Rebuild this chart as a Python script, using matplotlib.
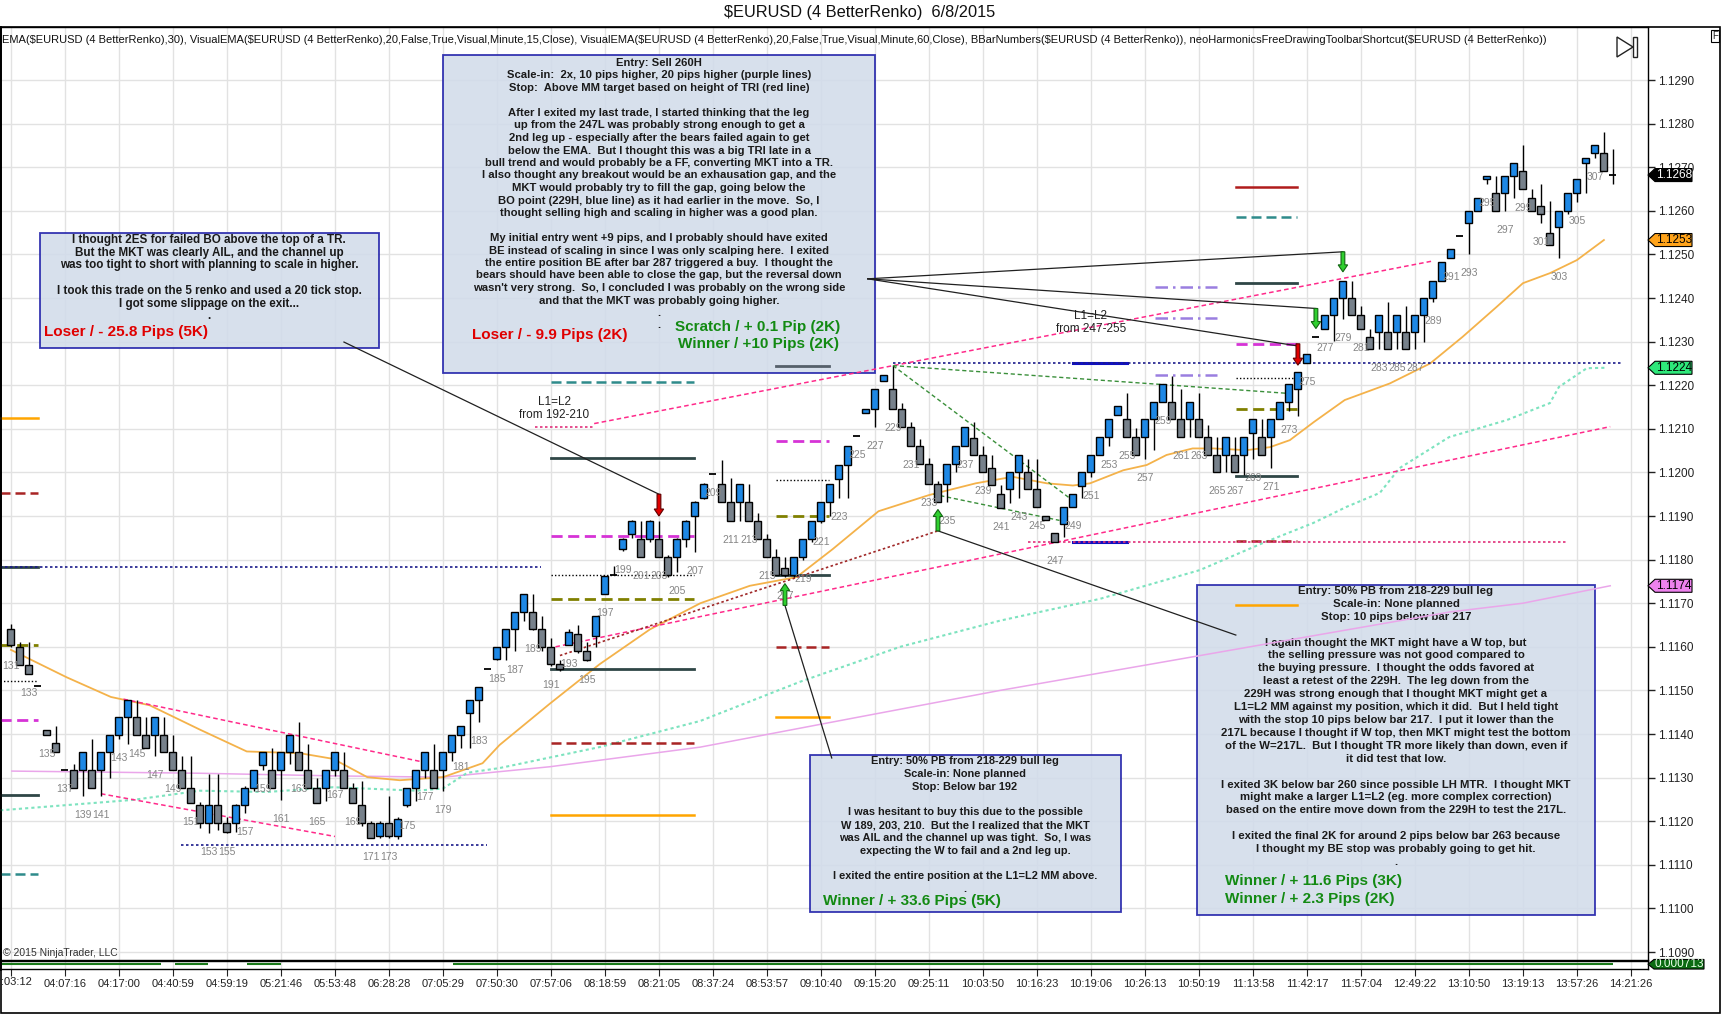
import matplotlib
matplotlib.use("Agg")
import matplotlib.pyplot as plt
import matplotlib.patches as mpatches
import matplotlib.transforms as mtransforms
import numpy as np

plt.rcParams['font.family'] = ['Liberation Sans', 'DejaVu Sans']

# ---------------- data ----------------
first_bar = 131

opens = [
    1.11640, 1.11600, 1.11559, 1.11509, 1.11409, 1.11379, 1.11317, 1.11317, 1.11317, 1.11317,
    1.11317, 1.11358, 1.11398, 1.11440, 1.11440, 1.11398, 1.11398, 1.11398, 1.11358, 1.11317,
    1.11277, 1.11237, 1.11197, 1.11237, 1.11197, 1.11197, 1.11237, 1.11277, 1.11328, 1.11317,
    1.11317, 1.11358, 1.11358, 1.11317, 1.11277, 1.11277, 1.11317, 1.11317, 1.11277, 1.11237,
    1.11197, 1.11165, 1.11197, 1.11165, 1.11237, 1.11277, 1.11317, 1.11317, 1.11317, 1.11358,
    1.11398, 1.11448, 1.11478, 1.11550, 1.11571, 1.11600, 1.11640, 1.11680, 1.11680, 1.11640,
    1.11600, 1.11560, 1.11605, 1.11630, 1.11590, 1.11625, 1.11722, 1.11765, 1.11825, 1.11858,
    1.11848, 1.11848, 1.11848, 1.11805, 1.11805, 1.11848, 1.11900, 1.11942, 1.11997, 1.11974,
    1.11933, 1.11933, 1.11933, 1.11889, 1.11848, 1.11805, 1.11780, 1.11764, 1.11805, 1.11848,
    1.11889, 1.11933, 1.11986, 1.12018, 1.12083, 1.12136, 1.12146, 1.12210, 1.12191, 1.12146,
    1.12105, 1.12061, 1.12019, 1.11974, 1.11974, 1.12019, 1.12061, 1.12080, 1.12041, 1.12011,
    1.11950, 1.11962, 1.12000, 1.12000, 1.11962, 1.11901, 1.11860, 1.11882, 1.11920, 1.11969,
    1.12000, 1.12041, 1.12082, 1.12132, 1.12122, 1.12082, 1.12082, 1.12122, 1.12161, 1.12161,
    1.12122, 1.12122, 1.12122, 1.12082, 1.12041, 1.12041, 1.12041, 1.12041, 1.12091, 1.12082,
    1.12082, 1.12122, 1.12161, 1.12191, 1.12252, 1.12311, 1.12330, 1.12362, 1.12401, 1.12401,
    1.12362, 1.12311, 1.12321, 1.12321, 1.12321, 1.12321, 1.12321, 1.12362, 1.12401, 1.12440,
    1.12491, 1.12542, 1.12571, 1.12600, 1.12672, 1.12642, 1.12642, 1.12681, 1.12692, 1.12630,
    1.12612, 1.12550, 1.12562, 1.12600, 1.12642, 1.12710, 1.12732, 1.12732, 1.12682,
]
highs = [
    1.11652, 1.11612, 1.11612, 1.11509, 1.11410, 1.11419, 1.11317, 1.11332, 1.11358, 1.11388,
    1.11358, 1.11398, 1.11440, 1.11478, 1.11478, 1.11440, 1.11440, 1.11440, 1.11398, 1.11350,
    1.11350, 1.11245, 1.11308, 1.11308, 1.11210, 1.11240, 1.11280, 1.11317, 1.11358, 1.11369,
    1.11358, 1.11398, 1.11428, 1.11378, 1.11300, 1.11317, 1.11358, 1.11358, 1.11288, 1.11292,
    1.11200, 1.11200, 1.11258, 1.11210, 1.11277, 1.11317, 1.11358, 1.11378, 1.11358, 1.11398,
    1.11419, 1.11478, 1.11508, 1.11550, 1.11600, 1.11640, 1.11680, 1.11720, 1.11720, 1.11670,
    1.11620, 1.11570, 1.11640, 1.11650, 1.11610, 1.11670, 1.11763, 1.11785, 1.11850, 1.11890,
    1.11889, 1.11890, 1.11889, 1.11810, 1.11850, 1.11890, 1.11935, 1.11975, 1.11997, 1.12028,
    1.11987, 1.11974, 1.11974, 1.11907, 1.11858, 1.11825, 1.11805, 1.11805, 1.11848, 1.11889,
    1.11933, 1.11974, 1.12018, 1.12061, 1.12083, 1.12146, 1.12191, 1.12224, 1.12245, 1.12159,
    1.12116, 1.12077, 1.12034, 1.11980, 1.12019, 1.12061, 1.12105, 1.12116, 1.12060, 1.12040,
    1.11970, 1.12000, 1.12041, 1.12031, 1.12031, 1.11901, 1.11860, 1.11920, 1.11950, 1.12000,
    1.12041, 1.12082, 1.12122, 1.12152, 1.12183, 1.12101, 1.12122, 1.12161, 1.12202, 1.12221,
    1.12191, 1.12161, 1.12183, 1.12109, 1.12082, 1.12082, 1.12082, 1.12082, 1.12122, 1.12122,
    1.12122, 1.12161, 1.12202, 1.12231, 1.12271, 1.12311, 1.12362, 1.12401, 1.12440, 1.12440,
    1.12382, 1.12330, 1.12362, 1.12391, 1.12362, 1.12382, 1.12362, 1.12401, 1.12440, 1.12482,
    1.12512, 1.12542, 1.12600, 1.12630, 1.12681, 1.12681, 1.12681, 1.12710, 1.12752, 1.12651,
    1.12661, 1.12622, 1.12600, 1.12642, 1.12672, 1.12722, 1.12752, 1.12781, 1.12741,
]
lows = [
    1.11600, 1.11559, 1.11538, 1.11509, 1.11398, 1.11358, 1.11317, 1.11277, 1.11258, 1.11277,
    1.11258, 1.11300, 1.11388, 1.11378, 1.11398, 1.11368, 1.11350, 1.11358, 1.11317, 1.11277,
    1.11242, 1.11185, 1.11173, 1.11180, 1.11173, 1.11175, 1.11219, 1.11269, 1.11317, 1.11277,
    1.11249, 1.11331, 1.11317, 1.11277, 1.11242, 1.11246, 1.11304, 1.11277, 1.11242, 1.11190,
    1.11161, 1.11161, 1.11161, 1.11160, 1.11233, 1.11246, 1.11300, 1.11277, 1.11269, 1.11338,
    1.11369, 1.11369, 1.11428, 1.11550, 1.11570, 1.11570, 1.11590, 1.11660, 1.11638, 1.11590,
    1.11557, 1.11545, 1.11605, 1.11585, 1.11567, 1.11600, 1.11722, 1.11765, 1.11820, 1.11850,
    1.11805, 1.11840, 1.11805, 1.11760, 1.11772, 1.11830, 1.11817, 1.11940, 1.11997, 1.11933,
    1.11889, 1.11889, 1.11889, 1.11848, 1.11805, 1.11764, 1.11760, 1.11760, 1.11800, 1.11840,
    1.11885, 1.11899, 1.11942, 1.11942, 1.12083, 1.12136, 1.12105, 1.12210, 1.12146, 1.12105,
    1.12061, 1.12019, 1.11974, 1.11933, 1.11933, 1.12000, 1.12061, 1.12040, 1.12000, 1.11970,
    1.11919, 1.11931, 1.11941, 1.11962, 1.11920, 1.11891, 1.11841, 1.11853, 1.11920, 1.11941,
    1.11990, 1.12041, 1.12060, 1.12132, 1.12082, 1.12041, 1.12031, 1.12051, 1.12161, 1.12122,
    1.12082, 1.12082, 1.12082, 1.12041, 1.12000, 1.12000, 1.12000, 1.11994, 1.12031, 1.12041,
    1.12011, 1.12122, 1.12142, 1.12130, 1.12250, 1.12311, 1.12330, 1.12301, 1.12351, 1.12362,
    1.12330, 1.12282, 1.12282, 1.12282, 1.12282, 1.12282, 1.12282, 1.12300, 1.12391, 1.12440,
    1.12491, 1.12542, 1.12502, 1.12600, 1.12661, 1.12600, 1.12600, 1.12630, 1.12651, 1.12600,
    1.12571, 1.12522, 1.12491, 1.12592, 1.12621, 1.12642, 1.12722, 1.12692, 1.12661,
]
closes = [
    1.11604, 1.11559, 1.11538, 1.11509, 1.11398, 1.11358, 1.11317, 1.11277, 1.11358, 1.11277,
    1.11358, 1.11398, 1.11440, 1.11478, 1.11398, 1.11368, 1.11440, 1.11358, 1.11317, 1.11277,
    1.11242, 1.11197, 1.11237, 1.11197, 1.11175, 1.11237, 1.11277, 1.11317, 1.11358, 1.11277,
    1.11358, 1.11398, 1.11317, 1.11277, 1.11242, 1.11317, 1.11358, 1.11277, 1.11242, 1.11197,
    1.11161, 1.11197, 1.11165, 1.11205, 1.11277, 1.11317, 1.11358, 1.11277, 1.11358, 1.11398,
    1.11419, 1.11478, 1.11508, 1.11550, 1.11600, 1.11640, 1.11680, 1.11720, 1.11640, 1.11600,
    1.11560, 1.11550, 1.11635, 1.11590, 1.11570, 1.11670, 1.11763, 1.11765, 1.11848, 1.11889,
    1.11805, 1.11889, 1.11805, 1.11764, 1.11848, 1.11889, 1.11933, 1.11974, 1.11997, 1.11933,
    1.11889, 1.11974, 1.11889, 1.11848, 1.11805, 1.11764, 1.11764, 1.11805, 1.11848, 1.11889,
    1.11933, 1.11974, 1.12018, 1.12061, 1.12083, 1.12146, 1.12191, 1.12224, 1.12146, 1.12105,
    1.12061, 1.12019, 1.11974, 1.11933, 1.12019, 1.12061, 1.12105, 1.12041, 1.12000, 1.11971,
    1.11919, 1.12000, 1.12041, 1.11962, 1.11920, 1.11891, 1.11841, 1.11920, 1.11950, 1.12000,
    1.12041, 1.12082, 1.12122, 1.12152, 1.12082, 1.12041, 1.12122, 1.12161, 1.12202, 1.12122,
    1.12082, 1.12161, 1.12082, 1.12041, 1.12000, 1.12082, 1.12000, 1.12082, 1.12122, 1.12041,
    1.12122, 1.12161, 1.12202, 1.12231, 1.12271, 1.12311, 1.12362, 1.12401, 1.12440, 1.12362,
    1.12330, 1.12282, 1.12362, 1.12282, 1.12362, 1.12282, 1.12362, 1.12401, 1.12440, 1.12482,
    1.12512, 1.12542, 1.12600, 1.12630, 1.12681, 1.12600, 1.12681, 1.12710, 1.12651, 1.12600,
    1.12592, 1.12522, 1.12600, 1.12642, 1.12672, 1.12722, 1.12752, 1.12692, 1.12682,
]
bar_numbers = list(range(first_bar, first_bar + len(opens)))
last_numbered_bar = 307

time_labels = [':03:12', '04:07:16', '04:17:00', '04:40:59', '04:59:19', '05:21:46',
               '05:53:48', '06:28:28', '07:05:29', '07:50:30', '07:57:06', '08:18:59',
               '08:21:05', '08:37:24', '08:53:57', '09:10:40', '09:15:20', '09:25:11',
               '10:03:50', '10:16:23', '10:19:06', '10:26:13', '10:50:19', '11:13:58',
               '11:42:17', '11:57:04', '12:49:22', '13:10:50', '13:19:13', '13:57:26',
               '14:21:26']
bars_per_time_tick = 6

# EMA(30) orange line
ema_bars = [131, 137.2, 142.1, 146.4, 152, 157.2, 163.1, 166.8, 170.6, 174.2, 179, 183.4,
            185.3, 190.9, 196.4, 202, 207.6, 213.1, 218.3, 222.3, 227.4, 233, 238.2, 242.3,
            246.1, 249, 250.9, 254.6, 257.2, 259.4, 262.3, 264.6, 268.3, 270.9, 273.1, 275.8,
            279.2, 284.2, 288.7, 292.3, 296.1, 299, 302, 305, 308]
ema_vals = [1.11593, 1.11530, 1.11485, 1.11466, 1.11410, 1.11360, 1.11356, 1.11343, 1.11301,
            1.11294, 1.11301, 1.11333, 1.11375, 1.11470, 1.11560, 1.11640, 1.11700, 1.11740,
            1.11760, 1.11824, 1.11911, 1.11948, 1.11975, 1.11990, 1.11975, 1.11970, 1.11975,
            1.12005, 1.12017, 1.12040, 1.12055, 1.12055, 1.12051, 1.12058, 1.12074, 1.12116,
            1.12166, 1.12204, 1.12250, 1.12311, 1.12380, 1.12434, 1.12457, 1.12487, 1.12533]

# VisualEMA 15 min (mint, dotted)
ema15_bars = [129.8, 144.6, 152, 159.4, 166.8, 176.1, 179, 181.7, 185.3, 196.4, 207.6, 218.7,
              229.8, 240.9, 252, 263.1, 270.1, 275.7, 279.4, 283.1, 285.3, 290.8, 297.2, 302,
              303, 306.1, 308.1]
ema15_vals = [1.11225, 1.11249, 1.11270, 1.11267, 1.11278, 1.11270, 1.11275, 1.11311, 1.11322,
              1.11370, 1.11430, 1.11520, 1.11600, 1.11660, 1.11710, 1.11776, 1.11838, 1.11884,
              1.11921, 1.11953, 1.12010, 1.12081, 1.12120, 1.12159, 1.12196, 1.12239, 1.12240]

# VisualEMA 60 min (violet)
ema60_bars = [131.1, 152, 166.8, 179, 190.9, 207.6, 224.2, 240.9, 257.6, 274.2, 290.9, 299, 308.7]
ema60_vals = [1.11315, 1.11310, 1.11304, 1.11301, 1.11325, 1.11370, 1.11435, 1.11500, 1.11560,
              1.11620, 1.11680, 1.11700, 1.11740]

# measured-move level groups (bar span, prices top to bottom, line kinds)
level_groups = [
    ((129.8, 134.0), [1.12125, 1.11953, 1.11783, 1.11604, 1.11522, 1.11432, 1.11260, 1.11080],
     ['orange', 'redd', 'slate', 'olive', 'dot', 'magenta', 'slate', 'teal']),
    ((191.0, 206.9), [1.12207, 1.12032, 1.11854, 1.11765, 1.11710, 1.11550, 1.11380, 1.11215],
     ['teal', 'slate', 'magenta', 'dot', 'olive', 'slate', 'redd', 'orange']),
    ((216.0, 221.9), [1.12245, 1.12072, 1.11983, 1.11900, 1.11764, 1.11600, 1.11438],
     ['grey', 'magenta', 'dot', 'olive', 'slate', 'redd', 'orange']),
    ((267.1, 273.9), [1.12655, 1.12585, 1.12435, 1.12295, 1.12216, 1.12145, 1.11992, 1.11843, 1.11696],
     ['reds', 'teal', 'slate', 'magenta', 'dot', 'olive', 'slate', 'redd', 'orange']),
    ((249.0, 255.0), [1.12252, 1.11841], ['blue', 'blue']),
    ((258.1, 265.0), [1.12425, 1.12355, 1.12223], ['lav', 'lav', 'lav']),
]

# long horizontal dotted references: (start bar, end bar, price, kind)
h_refs = [(229.0, 309.9, 1.12252, 'navy'), (129.8, 189.9, 1.11783, 'navy'),
          (149.9, 183.9, 1.11145, 'navy'), (244.0, 303.8, 1.11841, 'pinkdot'),
          (189.2, 195.8, 1.12105, 'pinkdot')]

# trend lines: (bar0, price0, bar1, price1, kind)
trend_lines = [
    (143.5, 1.11480, 176.5, 1.11337, 'pink'),
    (141.0, 1.11263, 167.0, 1.11165, 'pink'),
    (195.8, 1.12112, 289.0, 1.12485, 'pink'),
    (191.5, 1.11600, 308.7, 1.12105, 'pink'),
    (192.0, 1.11580, 234.0, 1.11866, 'reddot'),
    (229.0, 1.12245, 273.1, 1.12181, 'green'),
    (229.0, 1.12245, 248.7, 1.11940, 'green'),
    (233.5, 1.11950, 247.5, 1.11890, 'green'),
]

# arrows: (bar, start price, end price, colour)
arrows = [(203, 1.11950, 1.11900, 'red'), (217, 1.11695, 1.11745, 'green'),
          (234, 1.11866, 1.11915, 'green'), (274, 1.12295, 1.12246, 'red'),
          (276, 1.12376, 1.12330, 'green'), (279, 1.12506, 1.12460, 'green')]

# annotation leader lines (bar, price) -> (bar, price)
leaders = [((168.0, 1.12299), (203.0, 1.11950)),
           ((226.2, 1.12444), (279.0, 1.12506)),
           ((226.2, 1.12444), (276.0, 1.12376)),
           ((226.2, 1.12444), (274.0, 1.12290)),
           ((222.2, 1.11345), (217.0, 1.11695)),
           ((267.1, 1.11627), (234.0, 1.11866))]

# lower indicator panel
ind_value = 0.000713
ind_seg_start = [129.8, 149.2, 157.2, 180.1]
ind_seg_end = [147.7, 152.9, 161.0, 309.0]

# right-axis price markers
markers = [(1.12682, '1.1268', 'black', 'white'), (1.12533, '1.1253', '#ffa31a', 'black'),
           (1.12240, '1.1224', '#2ee87a', 'black'), (1.11740, '1.1174', '#ee82ee', 'black')]

# ---------------- texts ----------------
box1_lines = ["I thought 2ES for failed BO above the top of a TR.",
              "But the MKT was clearly AIL, and the channel up",
              "was too tight to short with planning to scale in higher.",
              "",
              "I took this trade on the 5 renko and used a 20 tick stop.",
              "I got some slippage on the exit...",
              "."]
box2_lines = ["Entry: Sell 260H",
              "Scale-in:  2x, 10 pips higher, 20 pips higher (purple lines)",
              "Stop:  Above MM target based on height of TRI (red line)",
              "",
              "After I exited my last trade, I started thinking that the leg",
              "up from the 247L was probably strong enough to get a",
              "2nd leg up - especially after the bears failed again to get",
              "below the EMA.  But I thought this was a big TRI late in a",
              "bull trend and would probably be a FF, converting MKT into a TR.",
              "I also thought any breakout would be an exhausation gap, and the",
              "MKT would probably try to fill the gap, going below the",
              "BO point (229H, blue line) as it had earlier in the move.  So, I",
              "thought selling high and scaling in higher was a good plan.",
              "",
              "My initial entry went +9 pips, and I probably should have exited",
              "BE instead of scaling in since I was only scalping here.  I exited",
              "the entire position BE after bar 287 triggered a buy.  I thought the",
              "bears should have been able to close the gap, but the reversal down",
              "wasn't very strong.  So, I concluded I was probably on the wrong side",
              "and that the MKT was probably going higher.",
              ".",
              "."]
box3_lines = ["Entry: 50% PB from 218-229 bull leg",
              "Scale-in: None planned",
              "Stop: 10 pips below bar 217",
              "",
              "I again thought the MKT might have a W top, but",
              "the selling pressure was not good compared to",
              "the buying pressure.  I thought the odds favored at",
              "least a retest of the 229H.  The leg down from the",
              "229H was strong enough that I thought MKT might get a",
              "L1=L2 MM against my position, which it did.  But I held tight",
              "with the stop 10 pips below bar 217.  I put it lower than the",
              "217L because I thought if W top, then MKT might test the bottom",
              "of the W=217L.  But I thought TR more likely than down, even if",
              "it did test that low.",
              "",
              "I exited 3K below bar 260 since possible LH MTR.  I thought MKT",
              "might make a larger L1=L2 (eg. more complex correction)",
              "based on the entire move down from the 229H to test the 217L.",
              "",
              "I exited the final 2K for around 2 pips below bar 263 because",
              "I thought my BE stop was probably going to get hit.",
              "."]
box4_lines = ["Entry: 50% PB from 218-229 bull leg",
              "Scale-in: None planned",
              "Stop: Below bar 192",
              "",
              "I was hesitant to buy this due to the possible",
              "W 189, 203, 210.  But the I realized that the MKT",
              "was AIL and the channel up was tight.  So, I was",
              "expecting the W to fail and a 2nd leg up.",
              "",
              "I exited the entire position at the L1=L2 MM above.",
              "."]

title = "$EURUSD (4 BetterRenko)  6/8/2015"
indicators = ("EMA($EURUSD (4 BetterRenko),30), VisualEMA($EURUSD (4 BetterRenko),20,False,True,"
              "Visual,Minute,15,Close), VisualEMA($EURUSD (4 BetterRenko),20,False,True,Visual,"
              "Minute,60,Close), BBarNumbers($EURUSD (4 BetterRenko)), "
              "neoHarmonicsFreeDrawingToolbarShortcut($EURUSD (4 BetterRenko))")

# ---------------- layout (pixels) ----------------
W, H = 1723, 1015
P_LEFT, P_RIGHT, P_TOP, P_BOT = 0, 1648, 27, 960
IND_BOT = 969
x_lo, x_hi = 129.78, 312.9
y_lo, y_hi = 1.108817, 1.130216


def fx(px):
    return px / W


def fy(py):
    return 1 - py / H


def axx(px):
    return (px - P_LEFT) / (P_RIGHT - P_LEFT)


def axy(py):
    return (P_BOT - py) / (P_BOT - P_TOP)


fig = plt.figure(figsize=(W / 100, H / 100), dpi=100)
fig.patch.set_facecolor('white')
ax = fig.add_axes([fx(P_LEFT), fy(P_BOT), fx(P_RIGHT), (P_BOT - P_TOP) / H])
ax2 = fig.add_axes([fx(P_LEFT), fy(IND_BOT), fx(P_RIGHT), (IND_BOT - P_BOT - 1) / H])

ax.set_xlim(x_lo, x_hi)
ax.set_ylim(y_lo, y_hi)
ax2.set_xlim(x_lo, x_hi)
ax2.set_ylim(0, 0.0012)

tick_bars = [first_bar + i * bars_per_time_tick for i in range(len(time_labels))]
price_ticks = np.round(np.arange(1.1090, 1.12901, 0.001), 4)

ax.set_xticks(tick_bars)
ax.tick_params(axis='x', length=0, labelbottom=False)
ax.yaxis.tick_right()
ax.set_yticks(price_ticks)
ax.set_yticklabels([f'{p:.4f}' for p in price_ticks])
ax.tick_params(axis='y', direction='out', length=5, width=1, labelsize=8.5, pad=2, colors='#222222')
ax.grid(True, color='#e2e2e2', lw=1)
ax.set_axisbelow(True)
for s in ax.spines.values():
    s.set_color('black')
    s.set_linewidth(1)
ax.spines['left'].set_linewidth(2)

# first time label sits against the left edge, drawn separately
ax2.set_xticks(tick_bars)
ax2.set_xticklabels([''] + time_labels[1:])
ax2.set_yticks([])
ax2.tick_params(axis='x', direction='out', length=5, labelsize=8, pad=2, colors='#222222')
ax2.grid(True, axis='x', color='#e2e2e2', lw=1)
ax2.set_axisbelow(True)
for s in ax2.spines.values():
    s.set_color('black')
    s.set_linewidth(1)
ax2.spines['left'].set_linewidth(2)
ax2.hlines([ind_value] * len(ind_seg_start), ind_seg_start, ind_seg_end, color='#1a7a1a', lw=1.5)
fig.text(fx(1), fy(982), time_labels[0], ha='left', va='center', fontsize=8, color='#222222')

# ---------------- candles ----------------
bn = np.array(bar_numbers, dtype=float)
o = np.array(opens)
h = np.array(highs)
l = np.array(lows)
c = np.array(closes)
up = c > o
dn = c < o
flat = c == o
body_w = 0.78
ax.vlines(bn, l, h, color='black', lw=1, zorder=5)
ax.bar(bn[up], (c - o)[up], bottom=o[up], width=body_w, color='#1e88e5',
       edgecolor='black', linewidth=1, zorder=6)
ax.bar(bn[dn], (o - c)[dn], bottom=c[dn], width=body_w, color='#77818b',
       edgecolor='black', linewidth=1, zorder=6)
ax.hlines(c[flat], bn[flat] - body_w / 2, bn[flat] + body_w / 2, color='black', lw=1.3, zorder=6)

px_price = (y_hi - y_lo) / (P_BOT - P_TOP)
for b, lo in zip(bar_numbers, lows):
    if b % 2 == 1 and b <= last_numbered_bar:
        ax.text(b, lo - 19 * px_price, str(b), ha='center', va='center', fontsize=7.5,
                color='#858585', zorder=7)

# ---------------- indicator lines ----------------
ax.plot(ema60_bars, ema60_vals, color='#eaa6ea', lw=1.1, zorder=4)
ax.plot(ema15_bars, ema15_vals, color='#7de3bf', lw=1.5, ls=(0, (1.5, 1.5)), zorder=4)
ax.plot(ema_bars, ema_vals, color='#f4b24a', lw=1.3, zorder=4)

styles = {
    'orange': dict(color='#ffa500', ls='-', lw=1.8),
    'redd': dict(color='#a82424', ls=(0, (4, 2)), lw=1.8),
    'reds': dict(color='#b01c1c', ls='-', lw=1.8),
    'slate': dict(color='#2f4646', ls='-', lw=2.0),
    'grey': dict(color='#55606a', ls='-', lw=2.0),
    'olive': dict(color='#808000', ls=(0, (4, 2)), lw=2.0),
    'dot': dict(color='black', ls=(0, (1, 1.5)), lw=1.0),
    'magenta': dict(color='#d633d6', ls=(0, (4, 2)), lw=2.0),
    'teal': dict(color='#2e8b8b', ls=(0, (4, 2)), lw=1.8),
    'blue': dict(color='#1010c0', ls='-', lw=2.2),
    'lav': dict(color='#9a7ee0', ls=(0, (5, 2, 1, 2)), lw=1.8),
    'navy': dict(color='#1a1a8a', ls=(0, (1.5, 1.5)), lw=1.2),
    'pinkdot': dict(color='#e0307a', ls=(0, (1.5, 1.5)), lw=1.2),
    'pink': dict(color='#ff2a8a', ls=(0, (3, 2)), lw=1.1),
    'reddot': dict(color='#a02828', ls=(0, (1.5, 1.5)), lw=1.2),
    'green': dict(color='#3a8f3a', ls=(0, (3, 2)), lw=1.0),
}

for (b0, b1), prices, kinds in level_groups:
    for p, k in zip(prices, kinds):
        ax.plot([b0, b1], [p, p], zorder=4, **styles[k])

for b0, b1, p, k in h_refs:
    ax.plot([b0, b1], [p, p], zorder=4, **styles[k])

for b0, p0, b1, p1, k in trend_lines:
    ax.plot([b0, b1], [p0, p1], zorder=4, **styles[k])

for (b0, p0), (b1, p1) in leaders:
    ax.plot([b0, b1], [p0, p1], color='#202020', lw=0.9, zorder=8)

for b, p0, p1, col in arrows:
    fc = '#e00000' if col == 'red' else '#2fd02f'
    ec = '#600000' if col == 'red' else '#116611'
    arr = mpatches.FancyArrow(b, p0, 0, p1 - p0, width=0.42, head_width=1.05,
                              head_length=7 * px_price, length_includes_head=True,
                              fc=fc, ec=ec, lw=0.8, zorder=9)
    ax.add_patch(arr)

ax.text(191.4, 1.12147, 'L1=L2\nfrom 192-210', ha='center', va='center', fontsize=8.5,
        linespacing=1.05, color='#222222', zorder=7)
ax.text(251.0, 1.12344, 'L1=L2\nfrom 247-255', ha='center', va='center', fontsize=8.5,
        linespacing=1.05, color='#222222', zorder=7)

# ---------------- text boxes ----------------
def text_box(x0, y0, x1, y1, lines, cx, first_y, pitch, size):
    rect = mpatches.Rectangle((axx(x0), axy(y1)), axx(x1) - axx(x0), axy(y0) - axy(y1),
                              transform=ax.transAxes, fc='#d2dcea', ec='#1b1ba8', lw=1.3,
                              alpha=0.88, zorder=2)
    ax.add_patch(rect)
    for i, line in enumerate(lines):
        if line:
            ax.text(axx(cx), axy(first_y + i * pitch), line, transform=ax.transAxes,
                    ha='center', va='center', fontsize=size, fontweight='bold',
                    color='#1a1a1a', zorder=3)


def result(x, y, s, col, ha='center'):
    ax.text(axx(x), axy(y), s, transform=ax.transAxes, ha=ha, va='center', fontsize=11,
            fontweight='bold', color=col, zorder=3)


RED, GREEN = '#e00000', '#138a13'
text_box(40, 233, 379, 348, box1_lines, 209, 240, 12.7, 8.4)
result(44, 332, 'Loser / - 25.8 Pips (5K)', RED, ha='left')

text_box(443, 55, 875, 373, box2_lines, 659, 63, 12.5, 8.1)
result(550, 335, 'Loser / - 9.9 Pips (2K)', RED)
result(758, 327, 'Scratch / + 0.1 Pip (2K)', GREEN)
result(759, 344, 'Winner / +10 Pips (2K)', GREEN)

text_box(1197, 585, 1595, 915, box3_lines, 1396, 591, 12.9, 8.2)
result(1225, 881, 'Winner / + 11.6 Pips (3K)', GREEN, ha='left')
result(1225, 899, 'Winner / + 2.3 Pips (2K)', GREEN, ha='left')

text_box(810, 755, 1121, 912, box4_lines, 965, 761, 12.8, 7.9)
result(912, 901, 'Winner / + 33.6 Pips (5K)', GREEN)

ax.text(axx(2), axy(40), indicators.replace('$', r'\$'), transform=ax.transAxes, ha='left',
        va='center', fontsize=8.0, color='#111111', zorder=3)
ax.text(axx(3), axy(953), '\u00a9 2015 NinjaTrader, LLC', transform=ax.transAxes, ha='left',
        va='center', fontsize=7.5, color='#333333', zorder=3)

# ---------------- right-side price markers ----------------
btrans = mtransforms.blended_transform_factory(ax.transAxes, ax.transData)
axw = P_RIGHT - P_LEFT
for p, s, fc, tc in markers:
    hh = 6.5 * px_price
    pts = [(1.0, p), (1 + 7 / axw, p + hh), (1 + 44 / axw, p + hh),
           (1 + 44 / axw, p - hh), (1 + 7 / axw, p - hh)]
    ax.add_patch(mpatches.Polygon(pts, closed=True, transform=btrans, fc=fc, ec='black',
                                  lw=0.8, clip_on=False, zorder=10))
    ax.text(1 + 26 / axw, p, s, transform=btrans, ha='center', va='center', fontsize=8.5,
            color=tc, clip_on=False, zorder=11)

btrans2 = mtransforms.blended_transform_factory(ax2.transAxes, ax2.transData)
hh2 = 4.8 * 0.0012 / (IND_BOT - P_BOT - 1)
pts = [(1.0, ind_value), (1 + 6 / axw, ind_value + hh2), (1 + 56 / axw, ind_value + hh2),
       (1 + 56 / axw, ind_value - hh2), (1 + 6 / axw, ind_value - hh2)]
ax2.add_patch(mpatches.Polygon(pts, closed=True, transform=btrans2, fc='#0b6b12', ec='black',
                               lw=0.8, clip_on=False, zorder=10))
ax2.text(1 + 31 / axw, ind_value, f'{ind_value:.6f}', transform=btrans2, ha='center',
         va='center', fontsize=8.5, color='#e8ffe8', clip_on=False, zorder=11)

# ---------------- frame, title, widgets ----------------
fig.text(fx(860), fy(13), title.replace('$', r'\$'), ha='center', va='center', fontsize=11.8,
         color='#111111')
fig.add_artist(mpatches.Rectangle((fx(1), fy(1013)), fx(1720) - fx(1), fy(27) - fy(1013),
                                  transform=fig.transFigure, fill=False, ec='black', lw=1.2))
fig.add_artist(mpatches.Polygon([(fx(1617), fy(37)), (fx(1633), fy(47)), (fx(1617), fy(57))],
                                closed=True, transform=fig.transFigure, fill=False,
                                ec='#222222', lw=1))
fig.add_artist(mpatches.Rectangle((fx(1633), fy(57)), fx(4), fy(37) - fy(57),
                                  transform=fig.transFigure, fill=False, ec='#222222', lw=1))
fig.text(fx(1715), fy(36), 'F', ha='center', va='center', fontsize=7, color='#222222',
         bbox=dict(boxstyle='square,pad=0.15', fc='white', ec='black', lw=0.8))

fig.savefig('out.png', dpi=100)
